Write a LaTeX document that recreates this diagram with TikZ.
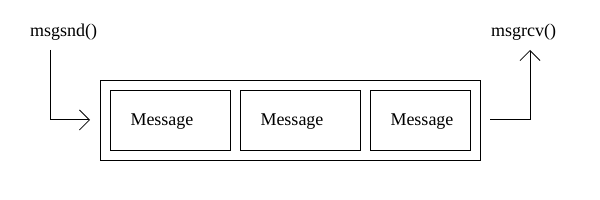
\documentclass[tikz,border=0pt]{standalone}
\usepackage{fontspec}
\setmainfont{Liberation Serif}
\usetikzlibrary{arrows.meta,calc}
\begin{document}
\begin{tikzpicture}[x=1pt,y=-1pt,line width=1pt,
  box/.style={draw,minimum height=60pt,inner sep=0pt,anchor=north west},
  lbl/.style={font=\fontsize{18}{21}\selectfont,inner sep=0pt},
  barb/.style={-{Straight Barb[length=10pt,width=20pt,line width=0.8pt]}}]
\useasboundingbox (0,0) rectangle (600,200);
\node[draw,minimum width=380pt,minimum height=80pt,inner sep=0pt,anchor=north west] (outer) at (100,80) {};
\node[box,minimum width=120pt] (b1) at (110,90) {};
\node[box,minimum width=120pt] (b2) at (240,90) {};
\node[box,minimum width=100pt] (b3) at (370,90) {};
\foreach \b in {b1,b2,b3}
  \node[lbl,anchor=base west] (t\b) at ($(\b.west)+(20,5)$) {Message};
\node[lbl,anchor=base] (snd) at (63.5,37) {msgsnd()};
\node[lbl,anchor=base] (rcv) at (523.5,37) {msgrcv()};
\coordinate (s1) at (50,50);
\coordinate (s2) at (90,120);
\coordinate (r1) at (490,120);
\coordinate (r2) at (530,50);
\draw[barb] (s1) |- (s2);
\draw[barb] (r1) -| (r2);
\end{tikzpicture}
\end{document}
